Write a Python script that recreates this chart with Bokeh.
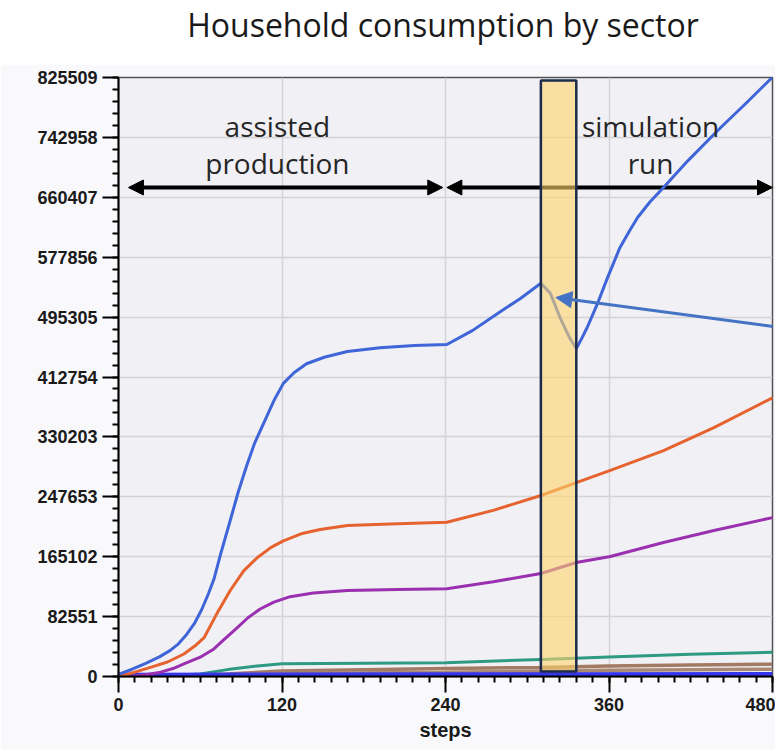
from bokeh.plotting import figure
from bokeh.models import FixedTicker, Arrow, NormalHead, Div, ColumnDataSource
from bokeh.layouts import column
from bokeh.core.properties import value
from bokeh.embed import file_html
from bokeh.resources import INLINE

# ---------------- data ----------------
title_text = "Household consumption by sector"

x_ticks = [0, 120, 240, 360, 480]
y_ticks = [0, 82551, 165102, 247653, 330203, 412754, 495305, 577856, 660407, 742958, 825509]
y_tick_labels = ["0", "82551", "165102", "247653", "330203", "412754", "495305",
                 "577856", "660407", "742958", "825509"]

blue_x = [0, 10, 20, 30, 38, 44, 50, 56, 61, 66, 70, 75, 82, 88, 94, 100, 107, 114, 121,
          129, 138, 151, 168, 192, 217, 241, 260, 278, 295, 310, 317, 324, 331, 336,
          340, 344, 352, 359, 368, 375, 381, 390, 400, 418, 442, 460, 480]
blue_y = [3000, 10000, 18000, 27000, 36000, 45000, 58000, 74000, 92000, 114000, 134000,
          169000, 215000, 255000, 290000, 322000, 351000, 380000, 404000, 419000, 431000,
          440000, 448000, 453000, 456000, 457500, 477000, 500000, 521000, 542000, 528000,
          495000, 467000, 452000, 466000, 481000, 516000, 550000, 591000, 614000, 632500,
          654000, 674000, 711000, 756600, 789000, 826000]

orange_x = [0, 3, 12, 24, 36, 48, 56, 63, 72, 82, 92, 102, 112, 121, 134, 148, 168, 205,
            241, 275, 310, 336, 361, 400, 437, 480]
orange_y = [0, 1400, 6000, 13000, 20000, 31000, 42000, 54000, 86000, 118500, 146000,
            164000, 178000, 187000, 196700, 202600, 208000, 210400, 212500, 229000,
            249400, 267300, 284000, 311400, 343100, 384000]

purple_x = [0, 10, 20, 31, 40, 48, 60, 70, 77, 87, 95, 104, 114, 126, 143, 168, 205, 241,
            275, 310, 336, 361, 400, 437, 480]
purple_y = [0, 500, 2500, 6000, 11000, 17500, 26600, 38000, 50000, 67000, 81000, 93000,
            102500, 110000, 115000, 118500, 120000, 121000, 130500, 141900, 157100,
            165400, 184700, 201200, 219000]

teal_x = [0, 40, 60, 80, 100, 120, 180, 240, 310, 360, 420, 480]
teal_y = [0, 1000, 3500, 9500, 14000, 17500, 18200, 18800, 23500, 27000, 30500, 33500]

brown_x = [0, 50, 80, 120, 240, 310, 360, 420, 480]
brown_y = [0, 1000, 3500, 7500, 11000, 12500, 14500, 15800, 17000]

tan_x = [0, 80, 120, 240, 360, 420, 480]
tan_y = [0, 2000, 4000, 6000, 8500, 9300, 10000]

navy_x = [0, 240, 480]
navy_y = [2500, 3000, 3500]

# annotation content
phase_text = ["assisted", "production", "simulation", "run"]
phase_x = [116.6, 116.6, 390.5, 390.5]
phase_y = [759300, 708300, 759300, 708300]
arrow_level = 673900
assisted_span = (7.3, 238.0)
simulation_span = (241.0, 480.0)
shock_box = (310.0, 336.0, 6900, 821300)
pointer_start = (481.0, 482300)
pointer_end = (321.0, 522300)

# ---------------- figure ----------------
p = figure(width=775, height=686, x_range=(0, 480), y_range=(0, 825509),
           output_backend="svg", toolbar_location=None,
           min_border_left=118, min_border_right=3, min_border_top=13,
           min_border_bottom=74)
p.background_fill_color = "#f0f0f5"
p.border_fill_color = "#f9f9fc"
p.outline_line_color = "#555555"
p.outline_line_width = 1.5

p.xaxis.ticker = FixedTicker(ticks=x_ticks, minor_ticks=list(range(0, 481, 12)))
p.yaxis.ticker = FixedTicker(ticks=y_ticks,
                             minor_ticks=[i * 825509 / 50 for i in range(51)])
p.yaxis.major_label_overrides = {t: l for t, l in zip(y_ticks, y_tick_labels)}

for ax in (p.xaxis, p.yaxis):
    ax.axis_line_color = "black"
    ax.axis_line_width = 2
    ax.major_tick_line_color = "black"
    ax.major_tick_line_width = 2
    ax.minor_tick_line_color = "black"
    ax.minor_tick_line_width = 2
    ax.major_tick_in = 0
    ax.major_tick_out = 16
    ax.minor_tick_in = 0
    ax.minor_tick_out = 6
    ax.major_label_text_font = "Liberation Sans"
    ax.major_label_text_font_style = "bold"
    ax.major_label_text_font_size = "18px"
    ax.major_label_text_color = "#1a1a1a"
    ax.major_label_standoff = 5

p.xaxis.axis_label = "steps"
p.xaxis.axis_label_text_font = "Liberation Sans"
p.xaxis.axis_label_text_font_style = "bold"
p.xaxis.axis_label_text_font_size = "20px"
p.xaxis.axis_label_text_color = "#1a1a1a"
p.xaxis.axis_label_standoff = 5

p.xgrid.grid_line_color = "#d4d4d8"
p.ygrid.grid_line_color = "#d4d4d8"
p.xgrid.grid_line_width = 1.5
p.ygrid.grid_line_width = 1.5

# black double arrows (under the lines and the box)
for (a, b) in (assisted_span, simulation_span):
    p.add_layout(Arrow(start=NormalHead(size=15, fill_color="black", line_color="black"),
                       end=NormalHead(size=15, fill_color="black", line_color="black"),
                       x_start=a, y_start=arrow_level, x_end=b, y_end=arrow_level,
                       line_color="black", line_width=4, level="underlay"))

# series
kw = dict(line_width=3, line_join="round", line_cap="round")
p.line(teal_x, teal_y, line_color="#2e9a82", **kw)
p.line(brown_x, brown_y, line_color="#a37a64", line_width=3.5)
p.line(tan_x, tan_y, line_color="#a98874", line_width=3.5)
p.line(navy_x, navy_y, line_color="#3535ee", line_width=4)
p.line(purple_x, purple_y, line_color="#9a30b0", **kw)
p.line(orange_x, orange_y, line_color="#e6632f", **kw)
p.line(blue_x, blue_y, line_color="#3f65d8", **kw)

# shock box
l, r, b, t = shock_box
p.quad(left=[l], right=[r], bottom=[b], top=[t], fill_color="#ffd36a",
       fill_alpha=0.6, line_color="#1c2b4a", line_width=2.5)

# phase labels
src = ColumnDataSource(dict(x=phase_x, y=phase_y, text=phase_text))
p.text(x="x", y="y", text="text", source=src, text_font=value("Open Sans"),
       text_font_size="28px", text_color="#262626", text_align="center",
       text_baseline="middle")

# blue pointer arrow
p.add_layout(Arrow(end=NormalHead(size=16, fill_color="#4472c4", line_color="#4472c4"),
                   x_start=pointer_start[0], y_start=pointer_start[1],
                   x_end=pointer_end[0], y_end=pointer_end[1],
                   line_color="#4472c4", line_width=3))

title = Div(text=f'<div style="margin-left:111px;width:664px;text-align:center;'
                 f'font-family:\'Open Sans\';font-size:32px;line-height:normal;'
                 f'margin-top:3px;color:#1a1a1a;white-space:nowrap">{title_text}</div>',
            width=775, height=64, margin=0)

layout = column(title, p, margin=0, spacing=0)
open("out.html", "w").write(file_html(layout, INLINE))
